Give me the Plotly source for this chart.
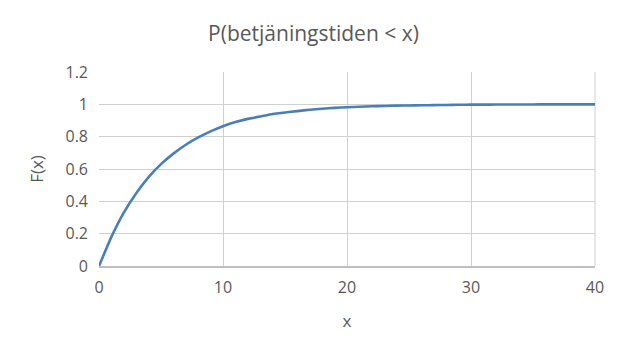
import plotly.graph_objects as go

x_vals = list(range(0, 41))
f_vals = [0, 0.18, 0.33, 0.45, 0.55, 0.63, 0.695, 0.75, 0.795, 0.833, 0.865,
          0.89, 0.91, 0.925, 0.94, 0.95, 0.958, 0.967, 0.973, 0.978, 0.982,
          0.985, 0.988, 0.99, 0.992, 0.993, 0.994, 0.995, 0.996, 0.997, 0.998,
          0.998, 0.999, 0.999, 0.999, 0.999, 1.0, 1.0, 1.0, 1.0, 1.0]

title_text = "P(betjäningstiden < x)"
x_title = "x"
y_title = "F(x)"

font_fam = "Open Sans, Liberation Sans, sans-serif"
gray = "#595959"

fig = go.Figure()
fig.add_trace(go.Scatter(x=x_vals, y=f_vals, mode="lines",
                         line=dict(color="#4a7ebb", width=2.6, shape="spline", smoothing=0.3),
                         showlegend=False, hoverinfo="skip"))

fig.update_layout(
    width=627, height=359,
    margin=dict(l=99, r=32, t=72, b=93),
    paper_bgcolor="white", plot_bgcolor="white",
    title=dict(text=title_text, x=0.5, xanchor="center", y=0.905, yanchor="middle",
               font=dict(family=font_fam, size=21, color=gray)),
    font=dict(family=font_fam, color=gray),
    xaxis=dict(range=[0, 40], tickvals=[0, 10, 20, 30, 40], showgrid=True,
               gridcolor="#d0d0d0", gridwidth=1, zeroline=False,
               showline=True, linecolor="#bfbfbf", linewidth=1.5,
               ticks="", tickfont=dict(size=16, color=gray),
               ticklabelstandoff=6,
               title=dict(text=x_title, font=dict(size=17, color=gray), standoff=18)),
    yaxis=dict(range=[0, 1.2], tickvals=[0, 0.2, 0.4, 0.6, 0.8, 1.0, 1.2],
               ticktext=["0", "0.2", "0.4", "0.6", "0.8", "1", "1.2"],
               showgrid=True, gridcolor="#d0d0d0", gridwidth=1, zeroline=False,
               showline=False, ticks="", tickfont=dict(size=16, color=gray),
               ticklabelstandoff=10,
               title=dict(text=y_title, font=dict(size=17, color=gray), standoff=17)),
)
fig.add_shape(type="line", xref="paper", yref="paper", x0=1, x1=1, y0=0, y1=1,
              line=dict(color="#d0d0d0", width=1), layer="below")

fig.write_html("out.html")
